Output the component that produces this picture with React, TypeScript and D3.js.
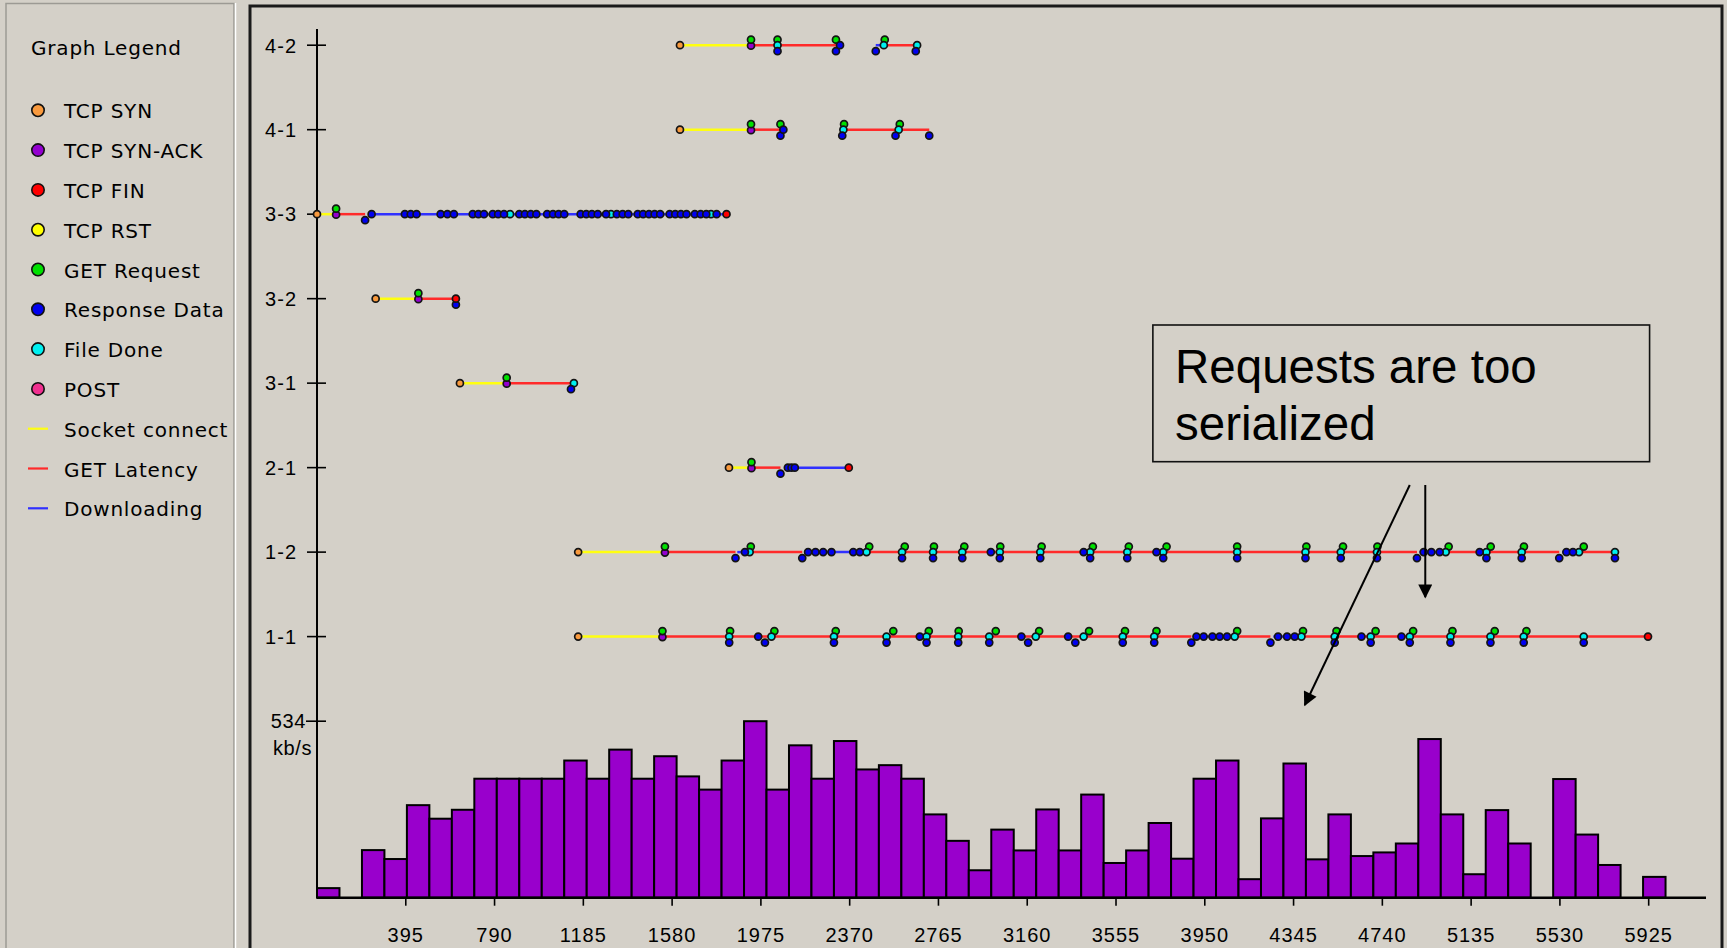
import React from 'react';
import * as d3 from 'd3';

// connection rows, top to bottom
const rows = ['4-2', '4-1', '3-3', '3-2', '3-1', '2-1', '1-2', '1-1'];

// events per connection: [time in ms, kind]
// kinds: syn, synack, fin, get, resp (first response block), data (further blocks), done
type Ev = [number, string];
type Seg = [number, number, string];

const events42: Ev[] = [
  [1615, 'syn'], [1931, 'synack'], [1931, 'get'], [2049, 'done'], [2049, 'get'], [2049, 'resp'],
  [2309, 'get'], [2309, 'resp'], [2327, 'data'], [2486, 'resp'], [2522, 'done'], [2526, 'get'],
  [2664, 'resp'], [2670, 'done'],
];
const events41: Ev[] = [
  [1615, 'syn'], [1931, 'synack'], [1931, 'get'], [2062, 'get'], [2062, 'resp'], [2075, 'data'],
  [2337, 'resp'], [2342, 'done'], [2345, 'get'], [2574, 'resp'], [2588, 'done'], [2593, 'get'],
  [2724, 'resp'],
];
const events33: Ev[] = [
  [0, 'syn'], [85, 'synack'], [85, 'get'], [214, 'resp'], [243, 'data'], [391, 'data'], [417, 'data'],
  [443, 'data'], [550, 'data'], [580, 'data'], [609, 'data'], [693, 'data'], [718, 'data'], [743, 'data'],
  [782, 'data'], [806, 'data'], [832, 'data'], [859, 'done'], [900, 'data'], [925, 'data'], [951, 'data'],
  [976, 'data'], [1024, 'data'], [1050, 'data'], [1075, 'data'], [1100, 'data'], [1173, 'data'],
  [1198, 'data'], [1223, 'data'], [1249, 'data'], [1286, 'data'], [1308, 'done'], [1334, 'data'],
  [1360, 'data'], [1385, 'data'], [1427, 'data'], [1451, 'data'], [1477, 'data'], [1502, 'data'],
  [1527, 'data'], [1569, 'data'], [1594, 'data'], [1619, 'data'], [1644, 'data'], [1681, 'data'],
  [1707, 'data'], [1732, 'data'], [1753, 'done'], [1778, 'data'], [1822, 'fin'],
];
const events32: Ev[] = [[261, 'syn'], [451, 'synack'], [451, 'get'], [618, 'resp'], [618, 'fin']];
const events31: Ev[] = [[636, 'syn'], [844, 'synack'], [844, 'get'], [1130, 'resp'], [1143, 'done']];
const events21: Ev[] = [
  [1833, 'syn'], [1933, 'synack'], [1933, 'get'], [2062, 'resp'], [2095, 'data'], [2111, 'data'],
  [2126, 'data'], [2366, 'fin'],
];
const events12: Ev[] = [
  [1162, 'syn'], [1548, 'synack'], [1548, 'get'], [1862, 'resp'], [1904, 'data'], [1925, 'done'],
  [1930, 'get'], [2159, 'resp'], [2185, 'data'], [2218, 'data'], [2252, 'data'], [2289, 'data'],
  [2386, 'data'], [2415, 'data'], [2445, 'done'], [2457, 'get'], [2603, 'done'], [2603, 'resp'],
  [2615, 'get'], [2741, 'done'], [2741, 'resp'], [2745, 'get'], [2871, 'done'], [2871, 'resp'],
  [2880, 'get'], [2998, 'data'], [3038, 'done'], [3038, 'resp'], [3040, 'get'], [3218, 'done'],
  [3218, 'resp'], [3224, 'get'], [3411, 'data'], [3440, 'done'], [3440, 'resp'], [3452, 'get'],
  [3605, 'done'], [3605, 'resp'], [3612, 'get'], [3735, 'data'], [3765, 'done'], [3765, 'resp'],
  [3780, 'get'], [4094, 'done'], [4094, 'resp'], [4094, 'get'], [4398, 'done'], [4398, 'resp'],
  [4402, 'get'], [4555, 'done'], [4555, 'resp'], [4565, 'get'], [4716, 'done'], [4716, 'resp'],
  [4718, 'get'], [4894, 'resp'], [4924, 'data'], [4958, 'data'], [4995, 'data'], [5022, 'done'],
  [5035, 'get'], [5173, 'data'], [5203, 'done'], [5203, 'resp'], [5222, 'get'], [5360, 'done'],
  [5360, 'resp'], [5370, 'get'], [5527, 'resp'], [5559, 'data'], [5588, 'data'], [5615, 'done'],
  [5636, 'get'], [5775, 'done'], [5775, 'resp'],
];
const events11: Ev[] = [
  [1162, 'syn'], [1537, 'synack'], [1537, 'get'], [1834, 'done'], [1834, 'resp'], [1838, 'get'],
  [1963, 'data'], [1993, 'resp'], [2022, 'done'], [2035, 'get'], [2300, 'done'], [2300, 'resp'],
  [2308, 'get'], [2534, 'done'], [2534, 'resp'], [2564, 'get'], [2682, 'data'], [2712, 'done'],
  [2712, 'resp'], [2722, 'get'], [2853, 'done'], [2853, 'resp'], [2855, 'get'], [2991, 'done'],
  [2991, 'resp'], [3020, 'get'], [3134, 'data'], [3164, 'resp'], [3198, 'done'], [3213, 'get'],
  [3342, 'data'], [3374, 'resp'], [3411, 'done'], [3435, 'get'], [3585, 'done'], [3585, 'resp'],
  [3595, 'get'], [3725, 'done'], [3725, 'resp'], [3735, 'get'], [3890, 'resp'], [3913, 'data'],
  [3945, 'data'], [3984, 'data'], [4016, 'data'], [4049, 'data'], [4083, 'done'], [4094, 'get'],
  [4242, 'resp'], [4276, 'data'], [4316, 'data'], [4350, 'data'], [4380, 'done'], [4387, 'get'],
  [4528, 'done'], [4528, 'resp'], [4536, 'get'], [4647, 'data'], [4688, 'done'], [4688, 'resp'],
  [4710, 'get'], [4825, 'data'], [4862, 'done'], [4862, 'resp'], [4877, 'get'], [5043, 'done'],
  [5043, 'resp'], [5052, 'get'], [5221, 'done'], [5221, 'resp'], [5240, 'get'], [5369, 'done'],
  [5369, 'resp'], [5381, 'get'], [5636, 'done'], [5636, 'resp'], [5922, 'fin'],
];

// phases per connection: [start ms, end ms, phase]
const segs42: Seg[] = [[1615, 1931, 'connect'], [1931, 2309, 'latency'], [2486, 2522, 'download'], [2522, 2670, 'latency']];
const segs41: Seg[] = [[1615, 1931, 'connect'], [1931, 2062, 'latency'], [2342, 2724, 'latency']];
const segs33: Seg[] = [[0, 85, 'connect'], [85, 214, 'latency'], [243, 1822, 'download']];
const segs32: Seg[] = [[261, 451, 'connect'], [451, 618, 'latency']];
const segs31: Seg[] = [[636, 844, 'connect'], [844, 1143, 'latency']];
const segs21: Seg[] = [[1833, 1933, 'connect'], [1933, 2062, 'latency'], [2080, 2366, 'download']];
const segs12: Seg[] = [
  [1162, 1548, 'connect'], [1548, 1862, 'latency'], [1870, 1925, 'download'], [1925, 2159, 'latency'],
  [2170, 2445, 'download'], [2445, 4894, 'latency'], [4905, 5022, 'download'], [5022, 5527, 'latency'],
  [5540, 5615, 'download'], [5615, 5775, 'latency'],
];
const segs11: Seg[] = [
  [1162, 1537, 'connect'], [1537, 3890, 'latency'], [3900, 4083, 'download'], [4083, 4242, 'latency'],
  [4255, 4380, 'download'], [4380, 5922, 'latency'],
];

const rowEvents: Record<string, Ev[]> = {
  '4-2': events42, '4-1': events41, '3-3': events33, '3-2': events32,
  '3-1': events31, '2-1': events21, '1-2': events12, '1-1': events11,
};
const rowSegs: Record<string, Seg[]> = {
  '4-2': segs42, '4-1': segs41, '3-3': segs33, '3-2': segs32,
  '3-1': segs31, '2-1': segs21, '1-2': segs12, '1-1': segs11,
};

// throughput histogram, 100 ms bins, kb/s
const binMs = 100;
const rates = [
  29, 0, 144, 117, 280, 239, 266, 360, 360, 360, 360, 415, 360, 448, 360, 428, 367, 327, 415, 534,
  327, 461, 360, 474, 388, 401, 360, 252, 172, 83, 206, 143, 267, 143, 312, 105, 143, 226, 118, 360,
  415, 56, 240, 406, 116, 252, 126, 137, 164, 480, 252, 71, 265, 164, 0, 359, 191, 99, 0, 63,
];
const rateMax = 534;
const xTicks = [395, 790, 1185, 1580, 1975, 2370, 2765, 3160, 3555, 3950, 4345, 4740, 5135, 5530, 5925];

const legendDots = [
  ['TCP SYN', 'syn'], ['TCP SYN-ACK', 'synack'], ['TCP FIN', 'fin'], ['TCP RST', 'rst'],
  ['GET Request', 'get'], ['Response Data', 'resp'], ['File Done', 'done'], ['POST', 'post'],
];
const legendLines = [['Socket connect', 'connect'], ['GET Latency', 'latency'], ['Downloading', 'download']];

const noteLines = ['Requests are too', 'serialized'];

const markColor: Record<string, string> = {
  syn: '#f99a3e', synack: '#9400d0', fin: '#ff0000', rst: '#ffff00', get: '#00e000',
  resp: '#0000f0', data: '#0000f0', done: '#00f0f0', post: '#f0308f',
};
const markDy: Record<string, number> = { get: -5.5, resp: 6, synack: 0.5 };
const drawOrder = ['synack', 'get', 'done', 'resp', 'data', 'syn', 'fin'];
const phaseColor: Record<string, string> = { connect: '#ffff10', latency: '#ff2a2a', download: '#3030ff' };

const W = 1727;
const H = 948;
const BG = '#d4d0c8';
const axisFont = '"Liberation Sans", Arial, sans-serif';
const legendFont = '"DejaVu Sans", Verdana, sans-serif';

export default function App() {
  const x = d3.scaleLinear().domain([0, 6180]).range([317, 1706]);
  const yRow = d3.scalePoint<string>().domain(rows).range([45.2, 636.6]);
  const baseY = 897.7;
  const yRate = d3.scaleLinear().domain([0, rateMax]).range([baseY, 721.2]);

  const bins = rates.map((v, i) => ({ x0: i * binMs, x1: (i + 1) * binMs, v })).filter((b) => b.v > 0);

  // note box placed in data units
  const boxX0 = x(3719);
  const boxX1 = x(5929);
  const boxY0 = 325;
  const boxY1 = 461.7;

  return (
    <svg width={W} height={H} style={{ position: 'fixed', left: 0, top: 0 }}>
      <defs>
        <marker id="arrow" viewBox="0 0 10 10" refX="9" refY="5" markerWidth="16" markerHeight="14" markerUnits="userSpaceOnUse" orient="auto">
          <path d="M0,0 L10,5 L0,10 z" fill="#000" />
        </marker>
      </defs>
      <rect width={W} height={H} fill={BG} />

      {/* legend panel */}
      <rect x={6} y={3.5} width={228} height={H + 10} fill="none" stroke="#9c9a94" strokeWidth={1.5} />
      <line x1={235.5} x2={235.5} y1={3} y2={H} stroke="#fff" strokeWidth={1.5} />
      <text x={31} y={55.2} fontFamily={legendFont} fontSize={20} letterSpacing={0.8} fill="#000">
        Graph Legend
      </text>
      {legendDots.map(([label, kind], i) => (
        <g key={label} transform={`translate(0,${110.3 + i * 39.8})`}>
          <circle cx={38} cy={0} r={6.2} fill={markColor[kind]} stroke="#111" strokeWidth={1.6} />
          <text x={64} y={8} fontFamily={legendFont} fontSize={20} letterSpacing={0.8} fill="#000">
            {label}
          </text>
        </g>
      ))}
      {legendLines.map(([label, phase], i) => (
        <g key={label} transform={`translate(0,${110.3 + (i + legendDots.length) * 39.8})`}>
          <line x1={28} x2={48} y1={0} y2={0} stroke={phaseColor[phase]} strokeWidth={2.2} />
          <text x={64} y={8} fontFamily={legendFont} fontSize={20} letterSpacing={0.8} fill="#000">
            {label}
          </text>
        </g>
      ))}

      {/* chart frame */}
      <rect x={250} y={6} width={1472} height={H + 10} fill="none" stroke="#1a1a1a" strokeWidth={3} />

      {/* y axis */}
      <line x1={x(0)} x2={x(0)} y1={29} y2={baseY} stroke="#000" strokeWidth={2} />
      {rows.map((r) => (
        <g key={r}>
          <line x1={307} x2={326} y1={yRow(r)} y2={yRow(r)} stroke="#000" strokeWidth={1.6} />
          <text x={297} y={(yRow(r) as number) + 7.3} textAnchor="end" fontFamily={axisFont} fontSize={20} letterSpacing={1} fill="#000">
            {r}
          </text>
        </g>
      ))}
      <line x1={306} x2={326} y1={yRate(rateMax)} y2={yRate(rateMax)} stroke="#000" strokeWidth={1.6} />
      <text x={306} y={yRate(rateMax) + 7} textAnchor="end" fontFamily={axisFont} fontSize={20} letterSpacing={0.6} fill="#000">
        {rateMax}
      </text>
      <text x={273} y={yRate(rateMax) + 34} fontFamily={axisFont} fontSize={20} letterSpacing={0.6} fill="#000">
        kb/s
      </text>

      {/* connection phases */}
      {rows.map((r) => (
        <g key={r}>
          {rowSegs[r].map(([a, b, phase], i) => (
            <line key={i} x1={x(a)} x2={x(b)} y1={yRow(r)} y2={yRow(r)} stroke={phaseColor[phase]} strokeWidth={2.5} />
          ))}
        </g>
      ))}
      {/* events */}
      {rows.map((r) => (
        <g key={r}>
          {drawOrder.map((kind) =>
            rowEvents[r]
              .filter((e) => e[1] === kind)
              .map(([t], i) => (
                <circle
                  key={kind + i}
                  cx={x(t)}
                  cy={(yRow(r) as number) + (markDy[kind] || 0)}
                  r={3.5}
                  fill={markColor[kind]}
                  stroke="#141414"
                  strokeWidth={1.7}
                />
              ))
          )}
        </g>
      ))}

      {/* histogram */}
      {bins.map((b) => (
        <rect
          key={b.x0}
          x={x(b.x0)}
          y={yRate(b.v)}
          width={x(b.x1) - x(b.x0)}
          height={baseY - yRate(b.v)}
          fill="#9900cc"
          stroke="#000"
          strokeWidth={2}
        />
      ))}
      <line x1={x(0)} x2={1706} y1={baseY} y2={baseY} stroke="#000" strokeWidth={2.5} />
      {xTicks.map((t) => (
        <g key={t}>
          <line x1={x(t)} x2={x(t)} y1={baseY} y2={baseY + 8} stroke="#000" strokeWidth={1.6} />
          <text x={x(t)} y={941.7} textAnchor="middle" fontFamily={axisFont} fontSize={20} letterSpacing={1} fill="#000">
            {t}
          </text>
        </g>
      ))}

      {/* annotation */}
      <rect x={boxX0} y={boxY0} width={boxX1 - boxX0} height={boxY1 - boxY0} fill="none" stroke="#111" strokeWidth={1.6} />
      {noteLines.map((s, i) => (
        <text key={s} x={1175} y={383.3 + i * 56.7} fontFamily={axisFont} fontSize={47.5} fill="#000">
          {s}
        </text>
      ))}
      <line x1={x(4862)} y1={485} x2={x(4395)} y2={yRate(583)} stroke="#000" strokeWidth={2} markerEnd="url(#arrow)" />
      <line x1={x(4931)} y1={485} x2={x(4931)} y2={(yRow('1-2') as number) + 45} stroke="#000" strokeWidth={2} markerEnd="url(#arrow)" />
    </svg>
  );
}
